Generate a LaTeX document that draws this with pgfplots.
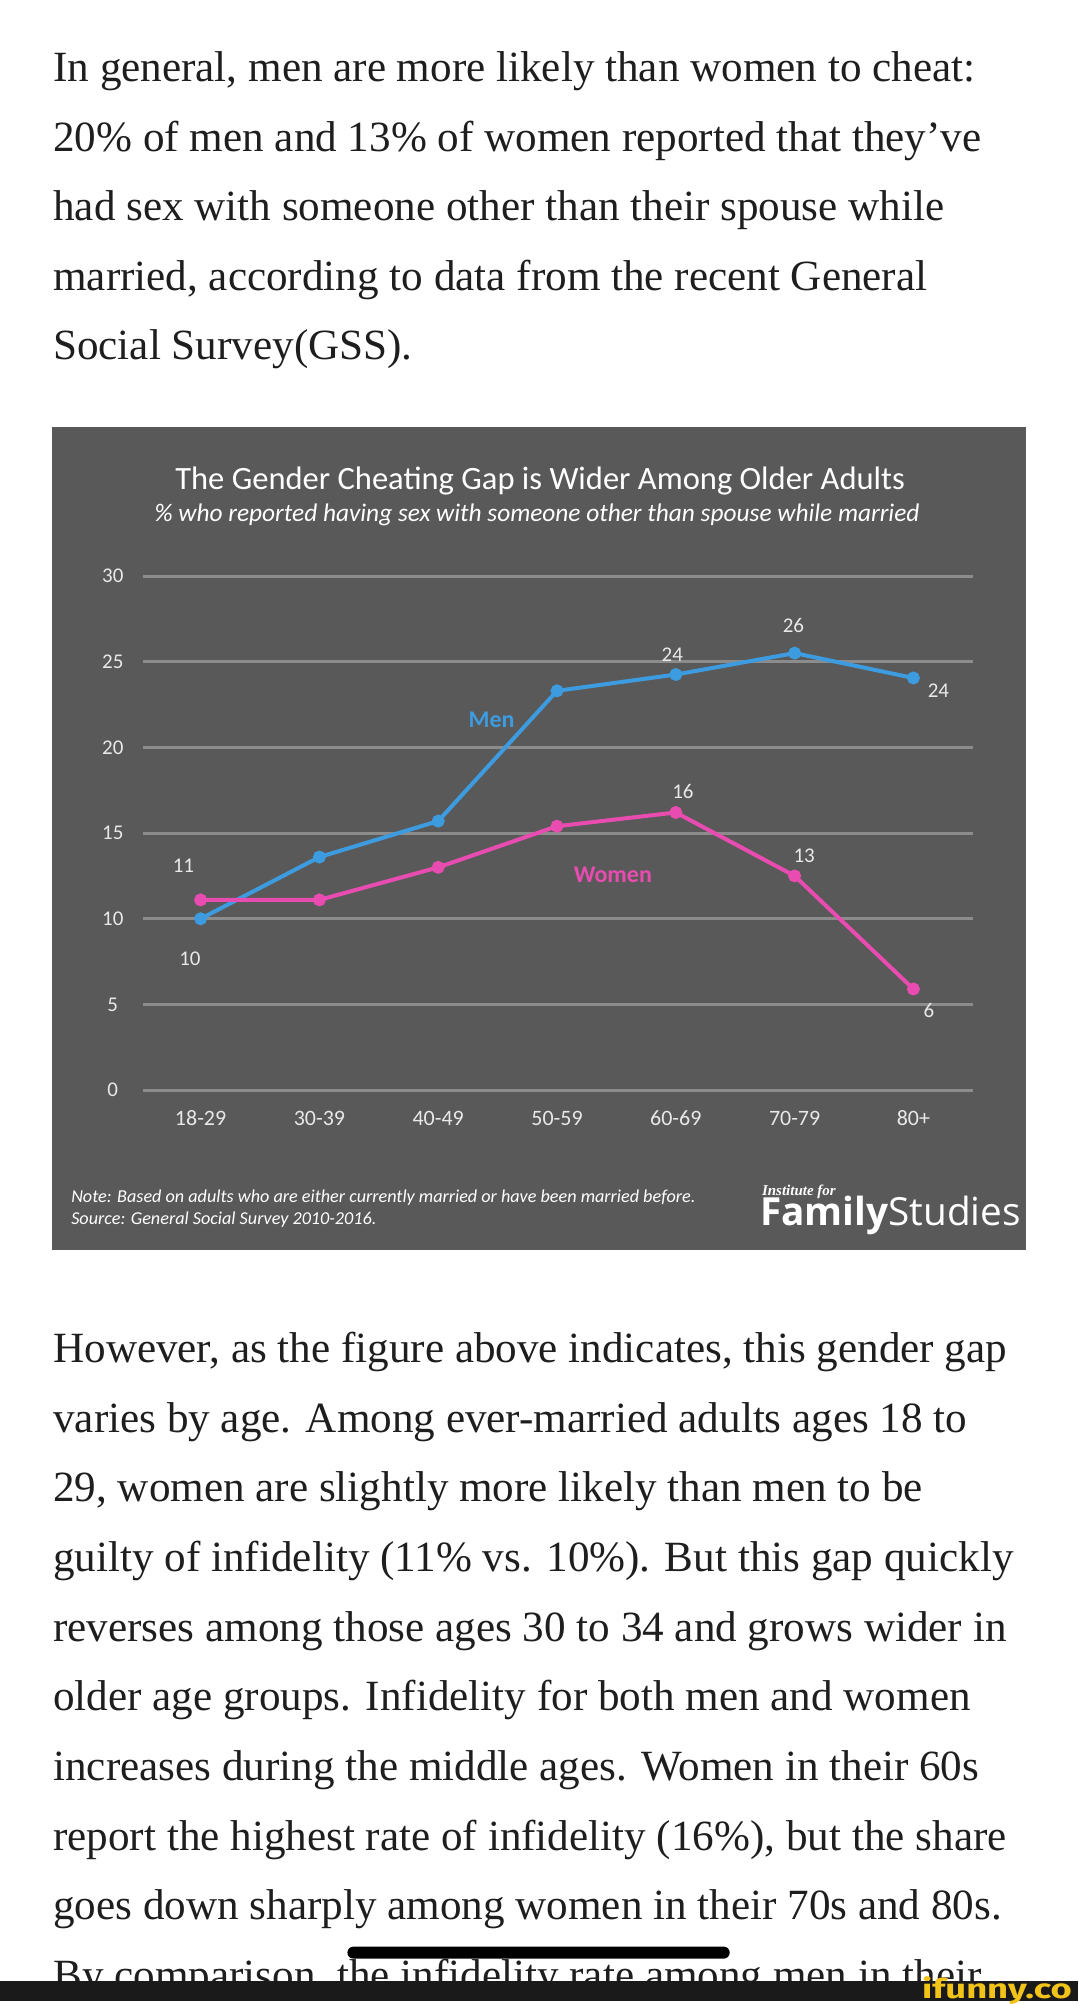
\documentclass[border=0pt]{standalone}
\usepackage{fontspec}
\setmainfont{Liberation Serif}
\newfontfamily\carlito{Carlito}
\newfontfamily\opensans{Open Sans}
\newfontfamily\fira{Fira Sans}
\usepackage{pgfplots}
\pgfplotsset{compat=1.18}
\definecolor{bg}{HTML}{595959}
\definecolor{gridc}{HTML}{8C8C8C}
\definecolor{men}{HTML}{3D9BE0}
\definecolor{women}{HTML}{E94CB0}
\definecolor{lbl}{HTML}{E8E8E8}
\definecolor{txt}{HTML}{1E1E1E}
\definecolor{strip}{HTML}{1A1A1A}
\definecolor{ifun}{HTML}{F2C318}
\begin{document}
\begin{tikzpicture}
\begin{scope}[x=0.5pt,y=-0.5pt]
\useasboundingbox (0,0) rectangle (1080,2004);
\fill[white] (0,0) rectangle (1080,2004);
% top paragraph
\begin{scope}[every node/.style={anchor=base west, inner sep=0pt, text=txt, font=\fontsize{21.6}{26}\selectfont}]
\node at (53,82) {In general, men are more likely than women to cheat:};
\node at (53,151.5) {20\% of men and 13\% of women reported that they’ve};
\node at (53,221) {had sex with someone other than their spouse while};
\node at (53,290.5) {married, according to data from the recent General};
\node at (53,360) {Social Survey(GSS).};
\end{scope}
% chart box
\fill[bg] (52,428) rectangle (1028,1252);
\node[text=white, font=\carlito\fontsize{16.3}{19}\selectfont] at (541,482) {The Gender Cheating Gap is Wider Among Older Adults};
\node[text=white, font=\carlito\itshape\fontsize{12.7}{15}\selectfont] at (538,516) {\% who reported having sex with someone other than spouse while married};
\node[anchor=west, inner sep=0pt, text=white, font=\carlito\itshape\fontsize{9.1}{11}\selectfont] at (71,1200) {Note: Based on adults who are either currently married or have been married before.};
\node[anchor=west, inner sep=0pt, text=white, font=\carlito\itshape\fontsize{9.1}{11}\selectfont] at (71,1222) {Source: General Social Survey 2010-2016.};
\node[anchor=base west, inner sep=0pt, text=white, font=\bfseries\itshape\fontsize{7.5}{8}\selectfont] at (763,1198) {Institute for};
\node[anchor=base west, inner sep=0pt, text=white, font=\opensans\fontsize{19.4}{21}\selectfont] at (761,1228) {\textbf{Family}Studies};
\end{scope}
\begin{axis}[
  at={(71.5pt,-554.585pt)}, anchor=south west,
  scale only axis, width=416pt, height=274.67pt,
  xmin=-0.487, xmax=6.504, ymin=-1, ymax=31,
  axis line style={draw=none}, tick style={draw=none},
  ytick={0,5,...,30}, xtick={0,...,6},
  xticklabels={18-29,30-39,40-49,50-59,60-69,70-79,80+},
  ymajorgrids, grid style={line width=1.5pt, gridc},
  yticklabel style={anchor=center, xshift=-15pt, text=lbl, font=\carlito\fontsize{10.5}{12}\selectfont},
  xticklabel style={anchor=center, yshift=-5.5pt, text=lbl, font=\carlito\fontsize{11}{13}\selectfont},
  /pgf/number format/assume math mode=true,
  clip=false,
]
\addplot[men, line width=2pt, mark=*, mark size=2.2pt, mark options={fill=men}] coordinates {(0,10)(1,13.6)(2,15.7)(3,23.3)(4,24.25)(5,25.5)(6,24.05)};
\addplot[women, line width=2pt, mark=*, mark size=2.2pt, mark options={fill=women}] coordinates {(0,11.1)(1,11.1)(2,13)(3,15.4)(4,16.2)(5,12.5)(6,5.9)};
\begin{scope}[every node/.style={text=lbl, font=\carlito\fontsize{10.5}{12}\selectfont}]
\node at (axis cs:-0.145,13.1) {11};
\node at (axis cs:-0.09,7.65) {10};
\node at (axis cs:3.97,25.4) {24};
\node at (axis cs:4.99,27.1) {26};
\node at (axis cs:6.21,23.3) {24};
\node at (axis cs:4.06,17.4) {16};
\node at (axis cs:5.08,13.7) {13};
\node at (axis cs:6.13,4.66) {6};
\end{scope}
\node[text=men, font=\carlito\bfseries\fontsize{12}{14}\selectfont] at (axis cs:2.45,21.6) {Men};
\node[text=women, font=\carlito\bfseries\fontsize{12}{14}\selectfont] at (axis cs:3.47,12.55) {Women};
\end{axis}
\begin{scope}[x=0.5pt,y=-0.5pt]
\begin{scope}[every node/.style={anchor=base west, inner sep=0pt, text=txt, font=\fontsize{21.6}{26}\selectfont}]
\node at (53,1365) {However, as the figure above indicates, this gender gap};
\node at (53,1434.75) {varies by age. Among ever-married adults ages 18 to};
\node at (53,1504.5) {29, women are slightly more likely than men to be};
\node at (53,1574.25) {guilty of infidelity (11\% vs. 10\%). But this gap quickly};
\node at (53,1644) {reverses among those ages 30 to 34 and grows wider in};
\node at (53,1713.75) {older age groups. Infidelity for both men and women};
\node at (53,1783.5) {increases during the middle ages. Women in their 60s};
\node at (53,1853.25) {report the highest rate of infidelity (16\%), but the share};
\node at (53,1923) {goes down sharply among women in their 70s and 80s.};
\node at (53,1992.75) {By comparison, the infidelity rate among men in their};
\end{scope}
\fill[black, rounded corners=3pt] (348,1950) rectangle (731,1962);
\fill[strip] (0,1984) rectangle (1080,2004);
\node[anchor=base east, inner sep=0pt, text=ifun, font=\fira\bfseries\fontsize{13.5}{14}\selectfont] at (1074,2001.5) {\scalebox{1.35}[1]{ifunny.co}};
\end{scope}
\end{tikzpicture}
\end{document}
